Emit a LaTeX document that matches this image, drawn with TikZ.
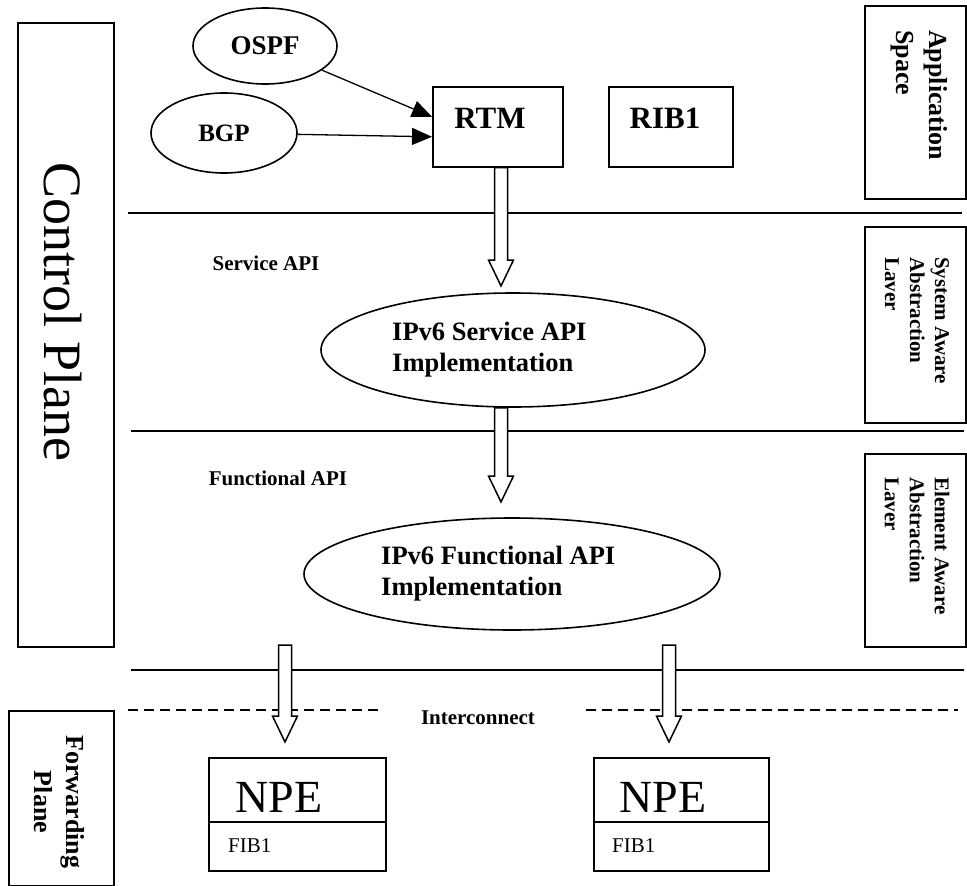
\documentclass[tikz,border=0pt]{standalone}
\usepackage{fontspec}
\setmainfont{Liberation Serif}
\usetikzlibrary{arrows.meta,calc,shapes.geometric}

\tikzset{
  bx/.style={draw,line width=1.6pt,rectangle},
  blob/.style={draw,line width=1.6pt,ellipse},
  sepline/.style={line width=1.4pt},
  dashline/.style={line width=1.4pt,dash pattern=on 10pt off 6pt},
  blk/.style={draw,fill=white,line width=1.5pt,line join=miter},
  feed/.style={line width=1.3pt,-{Triangle[length=20pt,width=17pt]}},
  bigb/.style={font=\fontsize{26.5}{31}\selectfont\bfseries,align=left},
  smallb/.style={font=\fontsize{21}{25}\selectfont\bfseries},
  side/.style={rotate=-90,anchor=west,align=left}
}

\newcommand{\blkarrow}[2]{%
  \draw[blk] let \p1=(#1), \p2=(#2) in
    (\x2-6.5pt,\y1) -- (\x2-6.5pt,\y2+26pt) -- (\x2-12.5pt,\y2+26pt) -- (\x2,\y2)
    -- (\x2+12.5pt,\y2+26pt) -- (\x2+6.5pt,\y2+26pt) -- (\x2+6.5pt,\y1) -- cycle;}

\begin{document}
\begin{tikzpicture}[x=1pt,y=-1pt]
            \tikzstyle{every node}+=[inner sep=0pt]
            \useasboundingbox (0,0) rectangle (967,886);
            \node[bx,minimum width=96pt,minimum height=624pt,anchor=north west] (ctrl) at (17,22) {};
            \node[rotate=-90,font=\fontsize{54}{60}\selectfont] (ctrltxt) at (63,312) {Control Plane};
            \node[bx,minimum width=105pt,minimum height=175pt,anchor=north west] (fwd) at (8,710) {};
            \node[rotate=-90,align=center,font=\fontsize{26}{32}\selectfont\bfseries] (fwdtxt) at (59,802) {Forwarding\\Plane};
            \node[bx,minimum width=101pt,minimum height=193pt,anchor=north west] (app) at (864,5) {};
            \node[side,font=\fontsize{26}{33}\selectfont\bfseries] (apptxt) at (919,30) {Application\\Space};
            \node[bx,minimum width=101pt,minimum height=196pt,anchor=north west] (sys) at (864,226) {};
            \node[side,font=\fontsize{21}{25}\selectfont\bfseries] (systxt) at (917,257) {System Aware\\Abstraction\\Laver};
            \node[bx,minimum width=101pt,minimum height=193pt,anchor=north west] (elem) at (864,453) {};
            \node[side,font=\fontsize{21}{25}\selectfont\bfseries] (elemtxt) at (917,477) {Element Aware\\Abstraction\\Laver};
            \node[blob,minimum width=144pt,minimum height=76pt,font=\fontsize{27}{30}\selectfont\bfseries] (ospf) at (265,46) {OSPF};
            \node[blob,minimum width=146pt,minimum height=80pt,font=\fontsize{25}{30}\selectfont\bfseries] (bgp) at (224,133) {BGP};
            \node[bx,minimum width=130pt,minimum height=80pt,anchor=north west] (rtm) at (432,86) {};
            \node[font=\fontsize{31}{36}\selectfont\bfseries] (rtmtxt) at (490,118) {RTM};
            \node[bx,minimum width=124pt,minimum height=80pt,anchor=north west] (rib) at (608,86) {};
            \node[font=\fontsize{31}{36}\selectfont\bfseries] (ribtxt) at (665,118) {RIB1};
            \draw[feed] (ospf) -- ([yshift=10pt]rtm.west);
            \draw[feed] (bgp) -- ([yshift=-10pt]rtm.west);
            \draw[sepline] (128,213) -- (962,213);
            \draw[sepline] (131,431) -- (964,431);
            \draw[sepline] (131,670) -- (964,670);
            \draw[dashline] (128,710) -- (383,710);
            \draw[dashline] (586,710) -- (958,710);
            \node[smallb] (svcapi) at (266,263) {Service API};
            \node[smallb] (funapi) at (278,478) {Functional API};
            \node[smallb] (icon) at (478,718) {Interconnect};
            \node[blob,minimum width=384pt,minimum height=114pt] (svc) at (513,350) {};
            \node[bigb,anchor=west] (svctxt) at (392,350) {IPv6 Service API\\Implementation};
            \node[blob,minimum width=416pt,minimum height=112pt] (fun) at (512,574) {};
            \node[bigb,anchor=west] (funtxt) at (381,574) {IPv6 Functional API\\Implementation};
            \node[bx,minimum width=177pt,minimum height=113pt,anchor=north west] (npeA) at (208,757) {};
            \draw[line width=1.6pt] ([yshift=-65pt]npeA.north west) -- ([yshift=-65pt]npeA.north east);
            \node[font=\fontsize{46}{50}\selectfont] (npeAtxt) at (279,797) {NPE};
            \node[font=\fontsize{21}{24}\selectfont,anchor=west] (fibA) at (228,846) {FIB1};
            \node[bx,minimum width=175pt,minimum height=113pt,anchor=north west] (npeB) at (593,757) {};
            \draw[line width=1.6pt] ([yshift=-65pt]npeB.north west) -- ([yshift=-65pt]npeB.north east);
            \node[font=\fontsize{46}{50}\selectfont] (npeBtxt) at (663,797) {NPE};
            \node[font=\fontsize{21}{24}\selectfont,anchor=west] (fibB) at (612,846) {FIB1};
            \coordinate (tipA) at (501,286);
            \coordinate (tipB) at (501,502);
            \coordinate (srcC) at (285,645);
            \coordinate (tipC) at (285,742);
            \coordinate (srcD) at (669,645);
            \coordinate (tipD) at (669,742);
            \blkarrow{rtm.south}{tipA}
            \blkarrow{svc.south}{tipB}
            \blkarrow{srcC}{tipC}
            \blkarrow{srcD}{tipD}
\end{tikzpicture}
\end{document}
